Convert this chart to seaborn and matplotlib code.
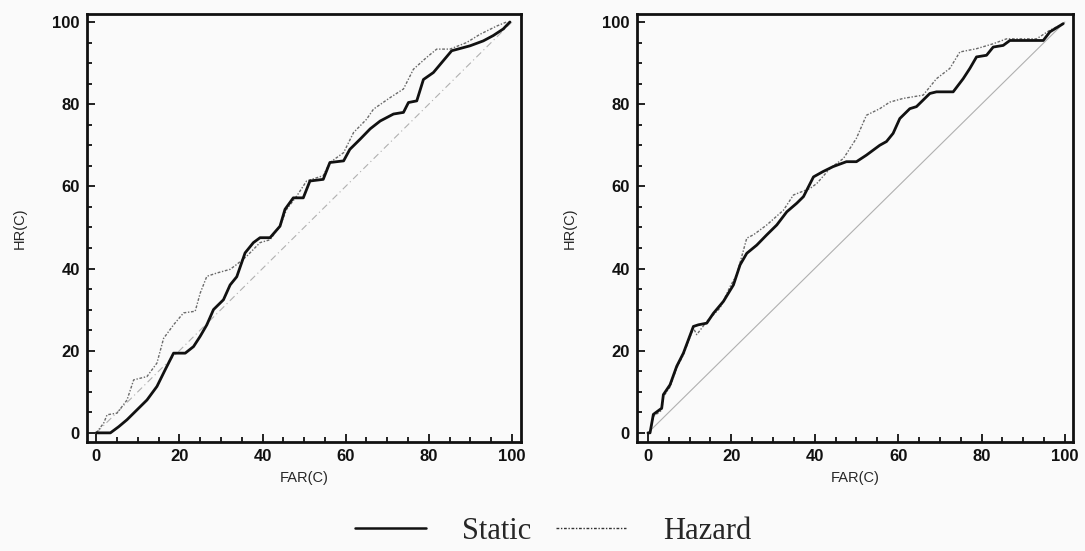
import numpy as np
import pandas as pd
import matplotlib
matplotlib.use("Agg")
import matplotlib.pyplot as plt
from matplotlib.lines import Line2D
from matplotlib.ticker import MultipleLocator
import seaborn as sns

# Left panel
left_static_far = [0, 3.4, 5.4, 7.4, 9.8, 12.2, 14.6, 16.6, 18.6, 21.4, 23.4, 25, 26.6, 28.2, 30.6, 32.2, 33.8, 35.8, 37.8, 39.4, 41.8, 44.2, 45.4, 47.4, 49.8, 51.4, 54.6, 56.2, 59.5, 61, 63.5, 65.9, 68.3, 71.5, 73.9, 75.1, 77.1, 78.7, 81.1, 83.5, 85.5, 89.9, 93.1, 95.5, 97.9, 99.5]
left_static_hr = [0, 0, 1.5, 3.2, 5.6, 8, 11.3, 15.4, 19.4, 19.4, 21, 23.5, 26.3, 30, 32.4, 36, 38, 43.8, 46.3, 47.5, 47.5, 50.3, 54.4, 57.2, 57.2, 61.3, 61.7, 65.8, 66.2, 69, 71.5, 74, 75.9, 77.6, 78, 80.4, 80.8, 86, 87.7, 90.6, 93, 94.2, 95.4, 96.7, 98.3, 100]
left_hazard_far = [0, 1.8, 2.6, 5, 7.4, 9, 12.2, 14.6, 16.2, 18.6, 21, 23.8, 25, 26.6, 29, 32.2, 33.8, 36.2, 39.4, 41.8, 44.2, 45.8, 48.2, 50.6, 54.6, 56.2, 59.5, 61.9, 65, 66.7, 70.7, 73.9, 76.3, 79.5, 81.9, 85.1, 89.1, 92.3, 96.3, 98.7]
left_hazard_hr = [0, 2.4, 4.4, 4.8, 8, 12.9, 13.7, 17, 23, 26.3, 29.2, 29.6, 34, 38.1, 38.9, 39.8, 41, 43, 46.3, 47, 50.3, 54.4, 57.6, 61.3, 62.6, 65.8, 68.2, 73.1, 76.3, 78.8, 81.6, 83.7, 88.5, 91.4, 93.4, 93.4, 95, 97, 99, 100]

# Right panel
right_static_far = [0, 0.5, 1.3, 3.3, 3.7, 5.3, 6.9, 8.5, 10.9, 12.1, 14.1, 15.7, 18.1, 20.5, 22.1, 23.7, 26.1, 28.5, 30.9, 33.3, 35.7, 37.3, 39.7, 42, 44.4, 47.6, 50, 52.4, 55.6, 57.2, 58.8, 60.4, 62.8, 64.4, 67.6, 69.2, 73.2, 75.6, 77.2, 78.8, 81.2, 82.8, 85.2, 86.8, 94.8, 96.4, 99.6]
right_static_hr = [0, 0, 4.5, 6, 9.3, 11.7, 16.2, 19.4, 25.9, 26.3, 26.7, 29.1, 32, 36, 40.9, 43.7, 45.7, 48.2, 50.6, 53.8, 55.9, 57.5, 62.3, 63.6, 64.8, 66, 66, 67.6, 70, 70.9, 72.9, 76.5, 78.9, 79.4, 82.6, 83, 83, 86.2, 88.7, 91.5, 91.9, 93.9, 94.3, 95.5, 95.5, 97.6, 99.6]
right_hazard_far = [0, 0.5, 1.3, 3.3, 3.7, 5.3, 6.9, 8.5, 10.9, 11.7, 14.1, 17.3, 19.7, 21.3, 23.7, 25.3, 28.5, 32.5, 34.9, 38.9, 40.5, 43.7, 46.9, 50, 52.4, 55.6, 58, 61.2, 66, 69.2, 72.4, 74.8, 78.8, 82.8, 86, 93.2, 96.4, 99.6]
right_hazard_hr = [0, 0, 4.0, 5.5, 8.8, 11.2, 15.8, 19.0, 25.5, 23.9, 27.1, 30.4, 35.6, 38.5, 47.4, 48.2, 50.6, 54.2, 57.9, 59.5, 60.7, 64.4, 66.8, 71.7, 77.3, 78.9, 80.5, 81.4, 82.2, 86.2, 88.7, 92.7, 93.5, 94.7, 95.9, 95.9, 98, 99.6]

chance = [0, 100]
x_ticks = [0, 20, 40, 60, 80, 100]
y_ticks = [0, 20, 40, 60, 80, 100]
series_names = ["Static", "Hazard"]

sns.set_style("ticks")
plt.rcParams['font.family'] = ['Liberation Sans', 'DejaVu Sans']

bg = "#fafafa"
fig = plt.figure(figsize=(10.85, 5.51), dpi=100, facecolor=bg)
ax1 = fig.add_axes([0.0799, 0.198, 0.400, 0.777])
ax2 = fig.add_axes([0.5868, 0.198, 0.402, 0.777])

hazard_ls = (0, (2, 1.2, 1, 1.2))

panels = [
    (ax1, left_static_far, left_static_hr, left_hazard_far, left_hazard_hr, (-2.3, 102.1), (0, (6, 3, 1, 3))),
    (ax2, right_static_far, right_static_hr, right_hazard_far, right_hazard_hr, (-2.7, 101.9), "-"),
]

for ax, sf, sh, hf, hh, xl, diag_ls in panels:
    ax.set_facecolor(bg)
    sns.lineplot(x=chance, y=chance, ax=ax, color="#b0b0b0", lw=0.8, linestyle=diag_ls, estimator=None)
    sns.lineplot(x=hf, y=hh, ax=ax, color="#6a6a6a", lw=1.0, linestyle=hazard_ls, estimator=None, sort=False)
    sns.lineplot(x=sf, y=sh, ax=ax, color="#111111", lw=2.0, estimator=None, sort=False)
    ax.set_xlim(*xl)
    ax.set_ylim(-2.2, 102)
    ax.set_xticks(x_ticks)
    ax.set_yticks(y_ticks)
    ax.xaxis.set_minor_locator(MultipleLocator(5))
    ax.yaxis.set_minor_locator(MultipleLocator(5))
    ax.tick_params(which="both", direction="in", width=1.3, colors="#111111", labelsize=12)
    ax.tick_params(which="major", length=6, pad=5)
    ax.tick_params(which="minor", length=3.5)
    for s in ax.spines.values():
        s.set_visible(True)
        s.set_linewidth(2.0)
        s.set_color("#111111")
    ax.set_xlabel("FAR(C)", fontsize=10.5, labelpad=5)
    ax.set_ylabel("HR(C)", fontsize=10.5, labelpad=18)
    for lab in ax.get_xticklabels() + ax.get_yticklabels():
        lab.set_fontweight("bold")

handles = [
    Line2D([0], [0], color="#111111", lw=1.8),
    Line2D([0], [0], color="#333333", lw=1.0, linestyle=hazard_ls),
]
fig.legend(handles, series_names, loc="lower center", bbox_to_anchor=(0.51, -0.04), ncol=2,
           frameon=False, handlelength=2.3, handletextpad=1.2, columnspacing=0.8,
           prop={"family": "Liberation Serif", "size": 22})

fig.savefig("out.png", dpi=100, facecolor=bg)
